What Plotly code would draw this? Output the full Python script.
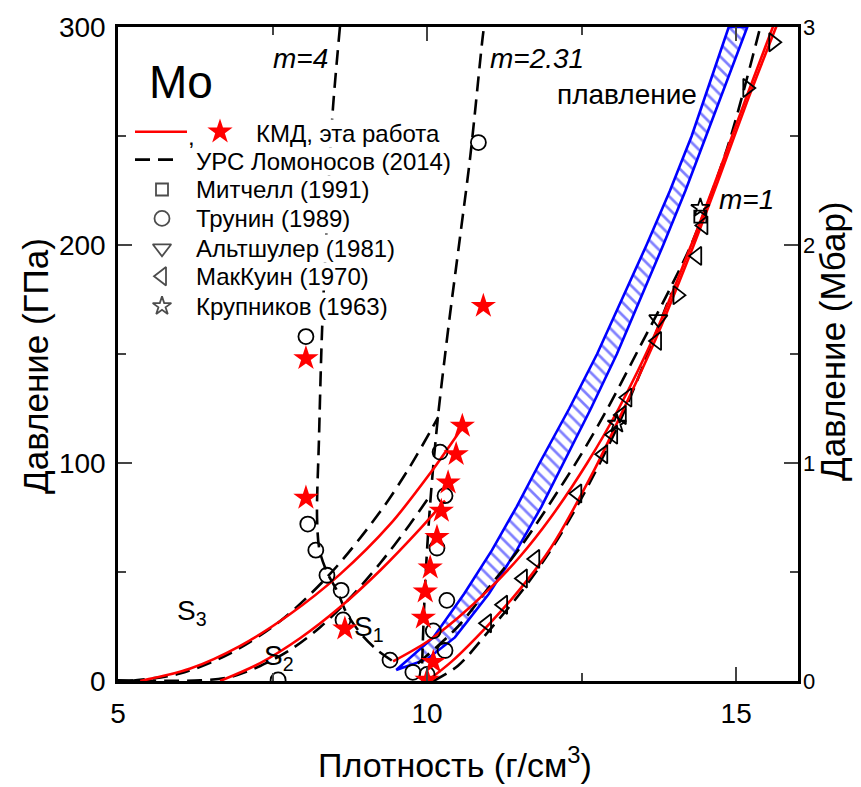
import plotly.graph_objects as go

# ---------------- data: density (g/cm^3) vs pressure (GPa) ----------------
# КМД, эта работа -- red curves
kmd_s3_rho = [5.36, 6.17, 6.97, 7.78, 8.59, 9.40, 10.05, 10.57]
kmd_s3_p = [0.0, 5.7, 16.0, 30.6, 48.9, 71.8, 95.3, 116.3]
kmd_s2_rho = [6.65, 7.30, 7.95, 8.59, 9.24, 9.89, 10.29]
kmd_s2_p = [0.0, 8.2, 19.7, 33.8, 50.7, 69.9, 82.7]
kmd_s1_rho = [9.45, 10.0, 10.5, 11.0, 11.5, 12.0, 12.59, 13.1, 13.7, 14.3, 14.74, 15.18, 15.62]
kmd_s1_p = [9, 18, 29, 42, 57, 75, 100, 125, 160, 202, 235, 269, 302]
kmd_h1_rho = [10.0, 10.4, 11.0, 11.5, 12.0, 12.69, 13.1, 13.7, 14.3, 14.74, 15.18, 15.66]
kmd_h1_p = [0, 9, 26, 42, 61, 96, 120, 157, 199, 232, 266, 301]

# КМД points (red stars)
kmd_pts_rho = [8.04, 8.04, 8.67, 10.91, 10.57, 10.47, 10.34, 10.23, 10.16, 10.05, 9.97, 9.94, 10.10, 10.0]
kmd_pts_p = [148, 84, 24, 172, 117, 104, 91, 78, 66, 52, 41, 29, 8.7, 0.5]

# УРС Ломоносов (2014) -- dashed curves
eos_s3_rho = [5.19, 6.00, 6.81, 7.62, 8.43, 9.24, 9.72, 10.18]
eos_s3_p = [0.0, 3.4, 12.6, 27.4, 49.1, 77.6, 98.2, 121.0]
eos_s2_rho = [5.0, 6.33, 6.81, 7.30, 7.78, 8.27, 8.75, 9.24, 9.72, 10.05]
eos_s2_p = [0.3, 0.3, 1.8, 6.9, 14.2, 24.7, 38.0, 54.0, 71.8, 85.1]
eos_m231_rho = [9.92, 9.94, 9.97, 10.01, 10.06, 10.12, 10.19, 10.28, 10.37, 10.53, 10.70, 10.89, 10.92]
eos_m231_p = [8, 25, 45, 65, 85, 105, 125, 147, 168, 203, 241, 293, 300]
eos_m4_rho = [8.59, 8.48, 8.43, 8.38, 8.30, 8.25, 8.22, 8.26, 8.38, 8.55, 8.70, 8.95, 9.20, 9.45]
eos_m4_p = [300, 264, 241, 211, 160, 110, 75, 60, 50, 41, 31, 21, 14, 9]
eos_m1a_rho = [9.85, 10.5, 11.0, 11.5, 12.0, 12.45, 12.9, 13.4, 13.93, 14.3, 14.85, 15.39]
eos_m1a_p = [8, 25, 43, 61, 82, 102, 124, 151, 180, 202, 244, 300]
eos_m1b_rho = [10.1, 10.5, 11.0, 11.5, 12.0, 12.5, 13.07, 13.5, 13.95]
eos_m1b_p = [0, 7, 23, 40, 60, 84, 116, 145, 178]

# плавление -- melting band edges
melt_lo_rho = [9.5, 10.1, 10.6, 11.05, 11.45, 11.82, 12.3, 12.75, 13.15, 13.55, 13.93, 14.28, 14.58, 14.88]
melt_lo_p = [5, 20, 40, 60, 80, 100, 125, 150, 175, 200, 225, 250, 275, 300]
melt_hi_rho = [9.5, 10.0, 10.45, 11.0, 11.45, 11.85, 12.2, 12.65, 13.07, 13.45, 13.82, 14.18, 14.52, 14.85, 15.18]
melt_hi_p = [5, 10, 20, 40, 60, 80, 100, 125, 150, 175, 200, 225, 250, 275, 300]

# experimental data
mitchell_rho = [14.42]
mitchell_p = [213]
trunin_rho = [8.04, 10.83, 8.07, 8.20, 8.38, 8.61, 8.64, 7.59, 9.40, 9.77, 10.0, 10.10, 10.29, 10.32, 10.16, 10.29, 10.21]
trunin_p = [158, 247, 72, 60, 48.5, 41.6, 28, 0.5, 9.6, 4, 3, 23, 14, 37, 61, 85, 105]
altshuler_rho = [13.74, 14.05, 15.18, 15.60]
altshuler_p = [166, 177, 272, 293]
altshuler_sym = ["triangle-down-open", "triangle-right-open", "triangle-right-open", "triangle-right-open"]
mcqueen_rho = [10.97, 11.23, 11.55, 11.75, 12.43, 12.85, 13.01, 13.15, 13.24, 13.72, 14.37, 14.47]
mcqueen_p = [26.5, 35, 47, 56, 86, 104, 113, 122, 130, 156, 195, 209]
krupnikov_rho = [14.42, 13.07]
krupnikov_p = [217, 118]

# axis ticks
x_ticks = [5, 10, 15]
y_ticks = [0, 100, 200, 300]
y2_ticks = [0, 1, 2, 3]

FONT = "Liberation Sans"
RED = "#ff0000"
BLUE = "#0000ff"
LW = 2.6
DASH = "15px,8px"

fig = go.Figure()

# melting band with hatching
fig.add_trace(go.Scatter(
    x=melt_lo_rho + melt_hi_rho[::-1], y=melt_lo_p + melt_hi_p[::-1],
    mode="lines", fill="toself", line=dict(color=BLUE, width=LW),
    fillcolor="rgba(0,0,0,0)",
    fillpattern=dict(shape="\\", fgcolor=BLUE, bgcolor="white", size=9, solidity=0.3),
    hoverinfo="skip", showlegend=False))

def curve(x, y, color, dash=None):
    fig.add_trace(go.Scatter(
        x=x, y=y, mode="lines",
        line=dict(color=color, width=LW, dash=dash, shape="spline", smoothing=0.9),
        hoverinfo="skip", showlegend=False))

for xs, ys in [(eos_s3_rho, eos_s3_p), (eos_s2_rho, eos_s2_p), (eos_m231_rho, eos_m231_p),
               (eos_m4_rho, eos_m4_p), (eos_m1a_rho, eos_m1a_p), (eos_m1b_rho, eos_m1b_p)]:
    curve(xs, ys, "black", DASH)

for xs, ys in [(kmd_s3_rho, kmd_s3_p), (kmd_s2_rho, kmd_s2_p),
               (kmd_s1_rho, kmd_s1_p), (kmd_h1_rho, kmd_h1_p)]:
    curve(xs, ys, RED)

def points(x, y, symbol, size=15, color="black", lw=1.8):
    fig.add_trace(go.Scatter(
        x=x, y=y, mode="markers",
        marker=dict(symbol=symbol, size=size, color=color, line=dict(color=color, width=lw)),
        hoverinfo="skip", showlegend=False))

points(trunin_rho, trunin_p, "circle-open", 15)
points(mcqueen_rho, mcqueen_p, "triangle-left-open", 16)
points(altshuler_rho, altshuler_p, altshuler_sym, 16)
points(mitchell_rho, mitchell_p, "square-open", 12)
points(krupnikov_rho, krupnikov_p, "star-open", 14)
points(kmd_pts_rho, kmd_pts_p, "star", 19, RED, 0)

# ---- legend block (helper axis measured in pixels from the plot's top-left corner) ----
leg = dict(xaxis="x3", yaxis="y3", hoverinfo="skip", showlegend=False)
leg_syms = ["square-open", "circle-open", "triangle-down-open", "triangle-left-open", "star-open"]
leg_rows = [163, 192, 222, 250, 280]
leg_sizes = [12, 15, 16, 16, 14]
leg_names = ["УРС Ломоносов (2014)", "Митчелл (1991)", "Трунин (1989)",
             "Альтшулер (1981)", "МакКуин (1970)", "Крупников (1963)"]
leg_y = [135, 163, 192, 222, 250, 280]

ann = []
def text(x, y, s, size=24, xanchor="left", yanchor="middle", italic=False, angle=0,
         ref="x3", bg=None):
    ann.append(dict(x=x, y=y, xref=ref if ref == "paper" else "x3",
                    yref="paper" if ref == "paper" else "y3",
                    text=s, showarrow=False, xanchor=xanchor, yanchor=yanchor, textangle=angle,
                    bgcolor=bg, borderpad=0,
                    font=dict(family=FONT, size=size, color="black",
                              style="italic" if italic else "normal")))

text(137, 107, "КМД, эта работа", bg="white")
text(73, 110, ",", xanchor="center")
for n, yy in zip(leg_names, leg_y):
    text(77, yy, n, bg="white")

fig.add_trace(go.Scatter(x=[17, 69], y=[105, 105], mode="lines", line=dict(color=RED, width=LW), **leg))
fig.add_trace(go.Scatter(x=[17, 59], y=[133, 133], mode="lines",
                         line=dict(color="black", width=LW, dash=DASH), **leg))
fig.add_trace(go.Scatter(x=[102], y=[105], mode="markers",
                         marker=dict(symbol="star", size=19, color=RED, line=dict(width=0)), **leg))
fig.add_trace(go.Scatter(x=[44] * 5, y=leg_rows, mode="markers",
                         marker=dict(symbol=leg_syms, size=leg_sizes, color="black",
                                     line=dict(color="black", width=1.8)), **leg))

text(30, 55, "Mo", size=46)
text(182, 32, "m=4", size=28, xanchor="center", italic=True)
text(419, 32, "m=2.31", size=28, xanchor="center", italic=True)
text(509, 68, "плавление", size=28, xanchor="center")
text(628, 173, "m=1", size=28, xanchor="center", italic=True)
text(58, 587, "S<sub>3</sub>", size=28)
text(145, 632, "S<sub>2</sub>", size=28)
text(235, 603, "S<sub>1</sub>", size=28)

# axis titles (paper coordinates)
text(0.4956, -0.1250, "Плотность (г/см<sup>3</sup>)", size=34, xanchor="center", ref="paper")
text(-0.1206, 0.4817, "Давление (ГПа)", size=35, xanchor="center", angle=-90, ref="paper")
text(1.0500, 0.5198, "Давление (Мбар)", size=35, xanchor="center", angle=-90, ref="paper")

axis_common = dict(showgrid=False, zeroline=False, ticks="inside", ticklen=14, tickwidth=2,
                   linecolor="black", linewidth=2.5, showline=True,
                   tickfont=dict(family=FONT, size=28, color="black"))

fig.update_layout(
    width=861, height=787,
    margin=dict(l=118, r=63, t=25, b=106),
    paper_bgcolor="white", plot_bgcolor="white",
    showlegend=False,
    annotations=ann,
    xaxis=dict(range=[5, 16], tickvals=x_ticks, mirror="ticks", ticklabelstandoff=6,
               minor=dict(ticks="inside", ticklen=8, tickwidth=2, dtick=2.5, tick0=5),
               **axis_common),
    yaxis=dict(range=[0, 300], tickvals=y_ticks, mirror=True, ticklabelstandoff=4,
               minor=dict(ticks="inside", ticklen=8, tickwidth=2, dtick=50, tick0=0),
               **axis_common),
    yaxis2=dict(range=[0, 3], tickvals=y2_ticks, overlaying="y", side="right", anchor="x",
                showgrid=False, zeroline=False, ticks="inside", ticklen=14, tickwidth=2,
                showline=False, ticklabelstandoff=4,
                minor=dict(ticks="inside", ticklen=8, tickwidth=2, dtick=0.5, tick0=0),
                tickfont=dict(family=FONT, size=22, color="black")),
    xaxis3=dict(range=[0, 680], overlaying="x", visible=False, anchor="y3"),
    yaxis3=dict(range=[656, 0], overlaying="y", visible=False, anchor="x3"),
)

# an invisible point so the right-hand axis is drawn
fig.add_trace(go.Scatter(x=[5], y=[0], yaxis="y2", mode="markers",
                         marker=dict(opacity=0), hoverinfo="skip", showlegend=False))

fig.write_html("out.html")
